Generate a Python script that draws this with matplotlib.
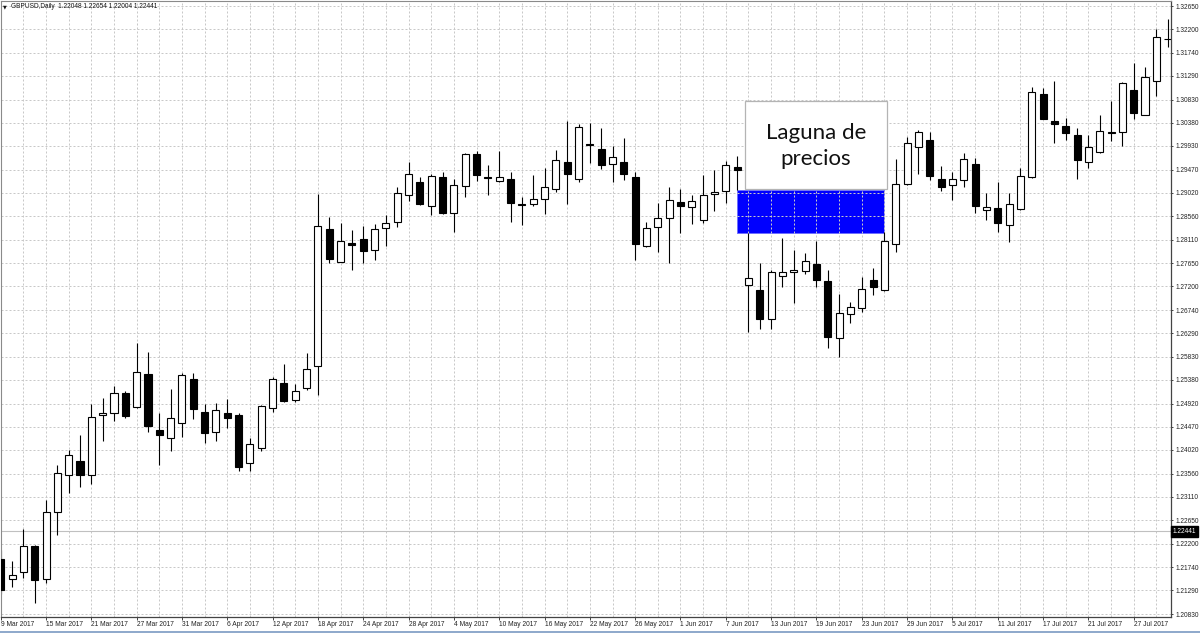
import matplotlib
matplotlib.use("Agg")
import matplotlib.pyplot as plt
import matplotlib.transforms as mtransforms
from matplotlib.patches import Rectangle
from matplotlib.lines import Line2D

# ---------------- data ----------------
symbol_header = "GBPUSD,Daily  1.22048 1.22654 1.22004 1.22441"
current_price = 1.22441
current_price_label = "1.22441"

opens = [1.2190, 1.2151, 1.2165, 1.2216, 1.2151, 1.2282, 1.2353, 1.2380, 1.2353, 1.2469,
         1.2474, 1.2512, 1.2485, 1.2549, 1.2441, 1.2426, 1.2454, 1.2540, 1.2476, 1.2437,
         1.2473, 1.2469, 1.2377, 1.2405, 1.2483, 1.2532, 1.2499, 1.2522, 1.2565, 1.2832,
         1.2768, 1.2805, 1.2813, 1.2791, 1.2833, 1.2845, 1.2898, 1.2923, 1.2876, 1.2932,
         1.2863, 1.2915, 1.2977, 1.2933, 1.2925, 1.2929, 1.2880, 1.2881, 1.2890, 1.2910,
         1.2962, 1.2928, 1.2997, 1.2988, 1.2957, 1.2961, 1.2933, 1.2798, 1.2835, 1.2852,
         1.2884, 1.2875, 1.2850, 1.2899, 1.2905, 1.2952, 1.2723, 1.2713, 1.2656, 1.2741,
         1.2747, 1.2750, 1.2763, 1.2730, 1.2619, 1.2666, 1.2677, 1.2732, 1.2712, 1.2802,
         1.2919, 1.2990, 1.3005, 1.2928, 1.2917, 1.2927, 1.2958, 1.2868, 1.2872, 1.2839,
         1.2870, 1.2933, 1.3094, 1.3042, 1.3032, 1.3014, 1.2961, 1.2981, 1.3021, 1.3020,
         1.3102, 1.3054, 1.3120, 1.3200]

highs = [1.2207, 1.2186, 1.2248, 1.2217, 1.2305, 1.2373, 1.2402, 1.2431, 1.2491, 1.2503,
         1.2526, 1.2517, 1.2610, 1.2592, 1.2473, 1.2520, 1.2552, 1.2551, 1.2491, 1.2494,
         1.2501, 1.2473, 1.2425, 1.2489, 1.2544, 1.2570, 1.2530, 1.2591, 1.2900, 1.2855,
         1.2843, 1.2830, 1.2837, 1.2841, 1.2859, 1.2913, 1.2961, 1.2933, 1.2938, 1.2943,
         1.2928, 1.2979, 1.2984, 1.2955, 1.2983, 1.2943, 1.2894, 1.2936, 1.2951, 1.2986,
         1.3042, 1.3035, 1.3038, 1.3027, 1.2993, 1.3009, 1.2943, 1.2846, 1.2883, 1.2914,
         1.2909, 1.2898, 1.2937, 1.2946, 1.2964, 1.2973, 1.2823, 1.2765, 1.2752, 1.2815,
         1.2791, 1.2784, 1.2809, 1.2752, 1.2705, 1.2689, 1.2739, 1.2755, 1.2826, 1.2967,
         1.3011, 1.3024, 1.3020, 1.2954, 1.2943, 1.2979, 1.2970, 1.2902, 1.2922, 1.2902,
         1.2950, 1.3108, 1.3105, 1.3120, 1.3047, 1.3027, 1.3014, 1.3053, 1.3080, 1.3118,
         1.3155, 1.3147, 1.3220, 1.3239]

lows = [1.2122, 1.2136, 1.2153, 1.2104, 1.2143, 1.2237, 1.2319, 1.2330, 1.2336, 1.2419,
        1.2459, 1.2465, 1.2484, 1.2437, 1.2373, 1.2400, 1.2428, 1.2462, 1.2415, 1.2419,
        1.2445, 1.2362, 1.2361, 1.2399, 1.2476, 1.2496, 1.2495, 1.2518, 1.2509, 1.2765,
        1.2767, 1.2752, 1.2766, 1.2771, 1.2799, 1.2835, 1.2885, 1.2878, 1.2859, 1.2861,
        1.2826, 1.2894, 1.2925, 1.2898, 1.2923, 1.2846, 1.2839, 1.2876, 1.2861, 1.2904,
        1.2881, 1.2923, 1.2959, 1.2948, 1.2922, 1.2927, 1.2771, 1.2796, 1.2787, 1.2765,
        1.2824, 1.2841, 1.2843, 1.2867, 1.2883, 1.2907, 1.2632, 1.2637, 1.2638, 1.2719,
        1.2687, 1.2745, 1.2719, 1.2600, 1.2583, 1.2648, 1.2671, 1.2703, 1.2711, 1.2787,
        1.2918, 1.2938, 1.2927, 1.2906, 1.2888, 1.2914, 1.2862, 1.2849, 1.2826, 1.2807,
        1.2869, 1.2930, 1.3045, 1.2999, 1.3005, 1.2928, 1.2950, 1.2980, 1.3003, 1.2993,
        1.3045, 1.3054, 1.3090, 1.3186]

closes = [1.2130, 1.2158, 1.2215, 1.2150, 1.2281, 1.2357, 1.2392, 1.2353, 1.2466, 1.2473,
          1.2512, 1.2468, 1.2554, 1.2449, 1.2431, 1.2465, 1.2548, 1.2481, 1.2435, 1.2480,
          1.2465, 1.2368, 1.2413, 1.2487, 1.2539, 1.2497, 1.2517, 1.2559, 1.2837, 1.2773,
          1.2809, 1.2801, 1.2789, 1.2832, 1.2843, 1.2901, 1.2938, 1.2880, 1.2935, 1.2862,
          1.2917, 1.2977, 1.2936, 1.2930, 1.2933, 1.2883, 1.2879, 1.2889, 1.2914, 1.2966,
          1.2938, 1.3030, 1.2995, 1.2956, 1.2971, 1.2938, 1.2802, 1.2834, 1.2853, 1.2887,
          1.2876, 1.2886, 1.2898, 1.2903, 1.2956, 1.2946, 1.2736, 1.2657, 1.2747, 1.2748,
          1.2752, 1.2770, 1.2732, 1.2621, 1.2668, 1.2679, 1.2715, 1.2718, 1.2808, 1.2919,
          1.2999, 1.3020, 1.2935, 1.2914, 1.2928, 1.2967, 1.2877, 1.2875, 1.2843, 1.2880,
          1.2935, 1.3098, 1.3045, 1.3035, 1.3019, 1.2966, 1.2990, 1.3023, 1.3019, 1.3115,
          1.3058, 1.3128, 1.3204, 1.3201]

x_tick_labels = ["9 Mar 2017", "15 Mar 2017", "21 Mar 2017", "27 Mar 2017", "31 Mar 2017",
                 "6 Apr 2017", "12 Apr 2017", "18 Apr 2017", "24 Apr 2017", "28 Apr 2017",
                 "4 May 2017", "10 May 2017", "16 May 2017", "22 May 2017", "26 May 2017",
                 "1 Jun 2017", "7 Jun 2017", "13 Jun 2017", "19 Jun 2017", "23 Jun 2017",
                 "29 Jun 2017", "5 Jul 2017", "11 Jul 2017", "17 Jul 2017", "21 Jul 2017",
                 "27 Jul 2017"]
bars_per_label = 4

y_tick_labels = ["1.20830", "1.21290", "1.21740", "1.22200", "1.22650", "1.23110", "1.23560",
                 "1.24020", "1.24470", "1.24920", "1.25380", "1.25830", "1.26290", "1.26740",
                 "1.27200", "1.27650", "1.28110", "1.28560", "1.29020", "1.29470", "1.29930",
                 "1.30380", "1.30830", "1.31290", "1.31740", "1.32200", "1.32650"]

gap_start_bar = 65   # bar whose low is the top of the price gap
gap_end_bar = 78     # bar where the gap zone ends
annotation_text = "Laguna de\nprecios"

# ---------------- figure ----------------
W, H = 1200, 633
fig = plt.figure(figsize=(W / 100, H / 100), dpi=100)
fig.patch.set_facecolor("white")

ax_left_px, ax_right_px, ax_top_px, ax_bot_px = 0.5, 1170.5, 1.0, 617.0
ax = fig.add_axes([ax_left_px / W, (H - ax_bot_px) / H,
                   (ax_right_px - ax_left_px) / W, (ax_bot_px - ax_top_px) / H])
ax.set_facecolor("white")

n = len(opens)
xs = list(range(n))
ax.set_xlim(-0.018, 103.25)
ax.set_ylim(1.20772, 1.32748)

# grid
grid_kw = dict(color="#c8c8c8", linewidth=0.72, linestyle=(0, (2, 2)))
ax.set_axisbelow(True)
major_x = [i * bars_per_label for i in range(len(x_tick_labels))]
minor_x = [p + bars_per_label // 2 for p in major_x if p + bars_per_label // 2 < n]
ax.set_xticks(major_x)
ax.set_xticks(minor_x, minor=True)
ax.set_xticklabels(x_tick_labels)
ax.set_yticks([float(s) for s in y_tick_labels])
ax.set_yticklabels(y_tick_labels)
ax.grid(True, which="major", axis="both", **grid_kw)
ax.grid(True, which="minor", axis="x", **grid_kw)

# price gap zone
gap_top = lows[gap_start_bar]
gap_bottom = highs[gap_start_bar + 1]
ax.add_patch(Rectangle((gap_start_bar, gap_bottom), gap_end_bar - gap_start_bar,
                       gap_top - gap_bottom, facecolor="#0000ff", edgecolor="#6f6fff",
                       linewidth=0.7, zorder=0.2))

# current price line
ax.axhline(current_price, color="#c0c0c0", linewidth=0.8, zorder=0.6)

# candles
bull = [c >= o for o, c in zip(opens, closes)]
ax.vlines(xs, lows, highs, color="black", linewidth=0.8, zorder=2)
bottoms = [min(o, c) for o, c in zip(opens, closes)]
heights = [abs(c - o) for o, c in zip(opens, closes)]
ax.bar(xs, heights, bottom=bottoms, width=0.62,
       color=["white" if b else "black" for b in bull],
       edgecolor="black", linewidth=0.8, zorder=3)

# annotation box
box_x0, box_x1 = 65.7, 78.25
box_y0, box_y1 = 1.2910, 1.30809
ax.add_patch(Rectangle((box_x0, box_y0), box_x1 - box_x0, box_y1 - box_y0,
                       facecolor="white", edgecolor="#b4b4b4", linewidth=0.9, zorder=5))
ax.text((box_x0 + box_x1) / 2, 1.2993, annotation_text, ha="center", va="center",
        fontsize=16, family="Lato", color="#111111", linespacing=1.38, zorder=6)

# axes styling
for side in ["left", "top"]:
    ax.spines[side].set_color("#8a8a8a")
    ax.spines[side].set_linewidth(0.8)
for side in ["right", "bottom"]:
    ax.spines[side].set_color("#444444")
    ax.spines[side].set_linewidth(0.9)

ax.yaxis.tick_right()
ax.tick_params(axis="y", which="major", direction="out", length=1.6, width=0.7,
               color="#444444", pad=1.8, labelsize=4.7, labelcolor="#222222")
ax.tick_params(axis="x", which="major", direction="out", length=2.4, width=0.7,
               color="#444444", pad=0.8, labelsize=4.8, labelcolor="#222222")
ax.tick_params(axis="x", which="minor", length=0)
for lbl in ax.get_xticklabels():
    lbl.set_ha("left")
    lbl.set_family("Liberation Sans")
for lbl in ax.get_yticklabels():
    lbl.set_family("Liberation Sans")

# current price tag on the right axis
trans = mtransforms.blended_transform_factory(ax.transAxes, ax.transData)
ax.text(1 + 2.5 / (ax_right_px - ax_left_px), current_price, current_price_label,
        transform=trans, ha="left", va="center", color="white",
        fontsize=4.7, family="Liberation Sans", zorder=10, clip_on=False,
        bbox=dict(boxstyle="square,pad=0.3", facecolor="black", edgecolor="black"))

# header
fig.text(3.0 / W, 1 - 6.5 / H, "\u25bc", fontsize=3.5, ha="left", va="center",
         family="DejaVu Sans", color="#111111")
fig.text(11.0 / W, 1 - 6.0 / H, symbol_header, fontsize=4.7, ha="left", va="center",
         family="Liberation Sans", color="#111111")

# window frame line at the bottom
fig.add_artist(Line2D([0, 1], [0.9 / H, 0.9 / H], transform=fig.transFigure,
                      color="#7a9ac2", linewidth=1.2))

fig.savefig("out.png", dpi=100, facecolor="white")
